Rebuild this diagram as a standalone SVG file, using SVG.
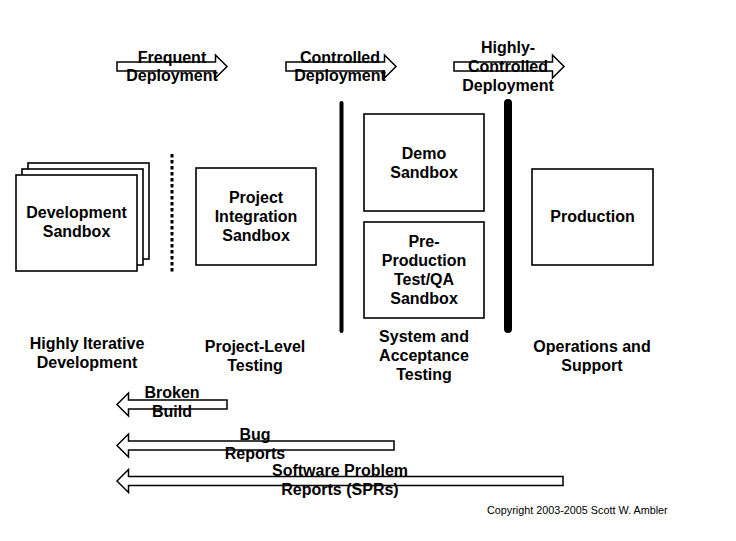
<svg xmlns="http://www.w3.org/2000/svg" width="736" height="541" viewBox="0 0 736 541">
<style>
.bg{fill:#fff}
.box{fill:#fff;stroke:#000;stroke-width:1.6}
.arr{fill:#fff;stroke:#000;stroke-width:1.5;stroke-linejoin:miter}
.t{font-family:"Liberation Sans",Arial,sans-serif;font-weight:bold;font-size:16px;fill:#000;text-anchor:middle}
.c{font-family:"Liberation Sans",Arial,sans-serif;font-size:10.8px;fill:#000}
</style>
<rect class="bg" x="0" y="0" width="736" height="541"/>
<g id="connectors">
  <path class="arr" d="M117,62 H215.5 V55 L227,66.5 L215.5,78 V71 H117 Z"/>
  <path class="arr" d="M286,62 H384.5 V55 L396,66.5 L384.5,78 V71 H286 Z"/>
  <path class="arr" d="M454,62 H552.5 V55 L564,66.5 L552.5,78 V71 H454 Z"/>
  <path class="arr" d="M117,404.5 L128.5,393 V400 H227 V409 H128.5 V416 Z"/>
  <path class="arr" d="M117,445.5 L128.5,434 V441 H394 V450 H128.5 V457 Z"/>
  <path class="arr" d="M117,481 L128.5,469.5 V476.5 H563 V485.5 H128.5 V492.5 Z"/>
  <line x1="172" y1="154" x2="172" y2="272" stroke="#000" stroke-width="3" stroke-dasharray="3.5 2.5"/>
  <line x1="341.5" y1="103" x2="341.5" y2="331" stroke="#000" stroke-width="4" stroke-linecap="round"/>
  <line x1="508" y1="103" x2="508" y2="329" stroke="#000" stroke-width="8" stroke-linecap="round"/>
</g>
<g id="arrow-labels">
  <text class="t" x="172" y="63">Frequent</text>
  <text class="t" x="172" y="81">Deployment</text>
  <text class="t" x="340" y="63">Controlled</text>
  <text class="t" x="340" y="81">Deployment</text>
  <text class="t" x="508" y="53">Highly-</text>
  <text class="t" x="508" y="72">Controlled</text>
  <text class="t" x="508" y="91">Deployment</text>
  <text class="t" x="172" y="398">Broken</text>
  <text class="t" x="172" y="417">Build</text>
  <text class="t" x="255" y="440">Bug</text>
  <text class="t" x="255" y="459">Reports</text>
  <text class="t" x="340" y="476">Software Problem</text>
  <text class="t" x="340" y="495">Reports (SPRs)</text>
</g>
<g id="dev-sandbox">
  <rect class="box" x="28" y="163" width="121" height="96"/>
  <rect class="box" x="22" y="169" width="121" height="96"/>
  <rect class="box" x="16" y="175" width="121" height="96"/>
  <text class="t" x="76.5" y="218">Development</text>
  <text class="t" x="76.5" y="237">Sandbox</text>
</g>
<g id="project-integration">
  <rect class="box" x="196" y="168" width="120" height="97"/>
  <text class="t" x="256" y="203">Project</text>
  <text class="t" x="256" y="222">Integration</text>
  <text class="t" x="256" y="241">Sandbox</text>
</g>
<g id="demo-sandbox">
  <rect class="box" x="364" y="114" width="120" height="97"/>
  <text class="t" x="424" y="159">Demo</text>
  <text class="t" x="424" y="178">Sandbox</text>
</g>
<g id="preprod-sandbox">
  <rect class="box" x="364" y="222" width="120" height="96"/>
  <text class="t" x="424" y="247">Pre-</text>
  <text class="t" x="424" y="266">Production</text>
  <text class="t" x="424" y="285">Test/QA</text>
  <text class="t" x="424" y="304">Sandbox</text>
</g>
<g id="production">
  <rect class="box" x="532" y="169" width="121" height="96"/>
  <text class="t" x="592.5" y="222">Production</text>
</g>
<g id="phase-labels">
  <text class="t" x="87" y="349">Highly Iterative</text>
  <text class="t" x="87" y="368">Development</text>
  <text class="t" x="255" y="352">Project-Level</text>
  <text class="t" x="255" y="371">Testing</text>
  <text class="t" x="424" y="342">System and</text>
  <text class="t" x="424" y="361">Acceptance</text>
  <text class="t" x="424" y="380">Testing</text>
  <text class="t" x="592" y="352">Operations and</text>
  <text class="t" x="592" y="371">Support</text>
</g>
<text class="c" x="487" y="514">Copyright 2003-2005 Scott W. Ambler</text>
</svg>
